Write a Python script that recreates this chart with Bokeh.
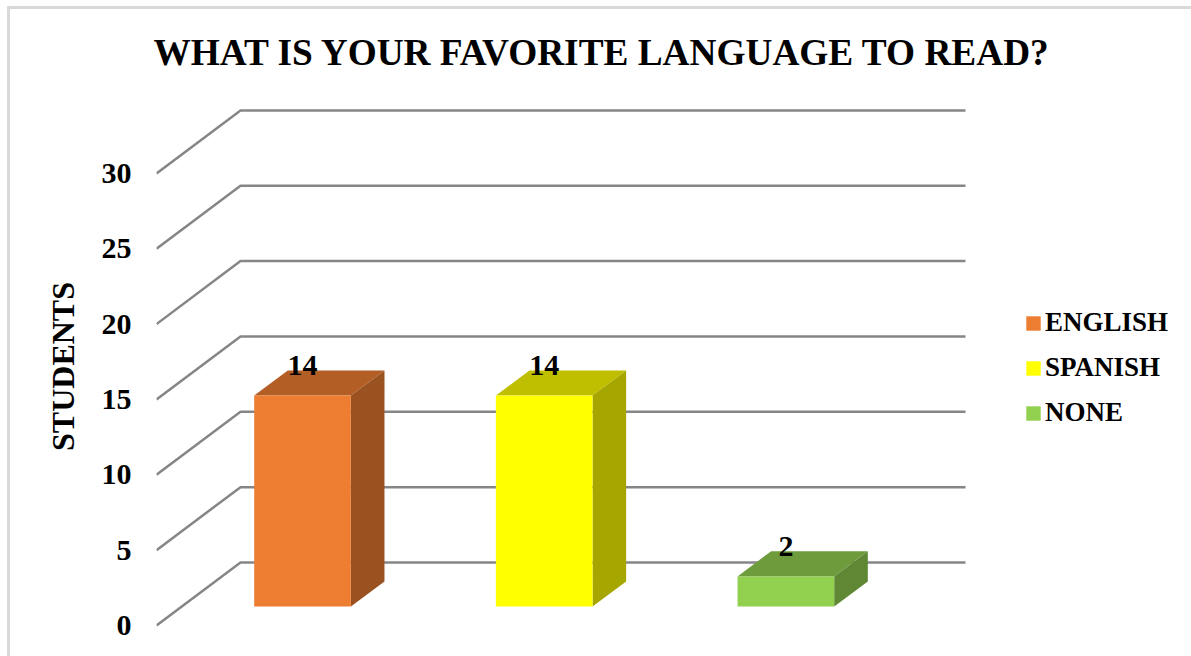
from bokeh.core.properties import value
from bokeh.embed import file_html
from bokeh.models import FixedTicker, InlineStyleSheet, Legend, LegendItem, Range1d
from bokeh.plotting import figure
from bokeh.resources import INLINE

# Chart content
TITLE = "WHAT IS YOUR FAVORITE LANGUAGE TO READ?"
Y_LABEL = "STUDENTS"
languages = ["ENGLISH", "SPANISH", "NONE"]
students = [14, 14, 2]
y_ticks = [0, 5, 10, 15, 20, 25, 30]

# Face colours of each 3-D column
front_colors = ["#ED7D31", "#FFFF00", "#92D050"]
top_colors = ["#B35E25", "#BFBF00", "#6E9C3C"]
side_colors = ["#9A5220", "#A6A600", "#5F8734"]

FONT = "Liberation Serif"
GRID_COLOR = "#868686"
BORDER_COLOR = "#D9D9D9"

# Pixel geometry of the page
WIDTH, HEIGHT = 1191, 656
FRAME_LEFT, FRAME_TOP = 156, 76
FLOOR_PX = 625
PX_PER_STUDENT = 15.07
PX_PER_CATEGORY = 241.67

# Oblique projection: the full floor depth expressed in axis units
DEPTH_X = 84 / PX_PER_CATEGORY
DEPTH_Y = 63 / PX_PER_STUDENT
BAR_WIDTH = 0.4
BAR_NEAR, BAR_FAR = 0.30, 0.70
WALL_RIGHT = 2.5


def project(x, y, z):
    return x + z * DEPTH_X, y + z * DEPTH_Y


# Chart-area border: only its top and left edges fall inside the page
border_css = InlineStyleSheet(css=f"""
:host::before {{
    content: "";
    position: absolute;
    left: 7px;
    top: 6px;
    right: 0;
    bottom: 0;
    border-top: 3px solid {BORDER_COLOR};
    border-left: 3px solid {BORDER_COLOR};
    pointer-events: none;
    z-index: 1;
}}
""")

p = figure(
    width=WIDTH,
    height=HEIGHT,
    output_backend="svg",
    toolbar_location=None,
    min_border_left=FRAME_LEFT,
    min_border_right=0,
    min_border_bottom=0,
    min_border_top=FRAME_TOP,
    x_range=Range1d(-0.5, -0.5 + (WIDTH - FRAME_LEFT) / PX_PER_CATEGORY),
    y_range=Range1d(-(HEIGHT - FLOOR_PX) / PX_PER_STUDENT, (FLOOR_PX - FRAME_TOP) / PX_PER_STUDENT),
    outline_line_color=None,
    background_fill_color="white",
    border_fill_color="white",
    stylesheets=[border_css],
)

p.xaxis.visible = False
p.xgrid.visible = False
p.ygrid.visible = False

# Title
p.title.text = TITLE
p.title.align = "left"
p.title.text_font = FONT
p.title.text_font_style = "bold"
p.title.text_font_size = "37.3px"
p.title.text_color = "black"
p.title.offset = -3
p.title.standoff = 7

# Value axis
axis = p.yaxis[0]
axis.ticker = FixedTicker(ticks=y_ticks)
axis.axis_line_color = None
axis.major_tick_line_color = None
axis.minor_tick_line_color = None
axis.major_label_standoff = 19
axis.major_label_text_font = FONT
axis.major_label_text_font_style = "bold"
axis.major_label_text_font_size = "30px"
axis.major_label_text_color = "black"
axis.axis_label = Y_LABEL
axis.axis_label_text_font = FONT
axis.axis_label_text_font_style = "bold"
axis.axis_label_text_font_size = "32px"
axis.axis_label_text_color = "black"
axis.axis_label_standoff = 18

# Side wall and back wall gridlines
for tick in y_ticks:
    bx, by = project(-0.5, tick, 1)
    rx, ry = project(WALL_RIGHT, tick, 1)
    p.line([-0.5, bx, rx], [tick, by, ry], line_color=GRID_COLOR, line_width=2.5)

# Columns
legend_items = []
for i, (name, val) in enumerate(zip(languages, students)):
    left, right = i - BAR_WIDTH / 2, i + BAR_WIDTH / 2
    corners = {
        "near_bl": project(left, 0, BAR_NEAR),
        "near_br": project(right, 0, BAR_NEAR),
        "near_tl": project(left, val, BAR_NEAR),
        "near_tr": project(right, val, BAR_NEAR),
        "far_br": project(right, 0, BAR_FAR),
        "far_tl": project(left, val, BAR_FAR),
        "far_tr": project(right, val, BAR_FAR),
    }
    top = [corners[k] for k in ("near_tl", "near_tr", "far_tr", "far_tl")]
    side = [corners[k] for k in ("near_br", "far_br", "far_tr", "near_tr")]
    p.patch([c[0] for c in top], [c[1] for c in top], fill_color=top_colors[i], line_color=None)
    p.patch([c[0] for c in side], [c[1] for c in side], fill_color=side_colors[i], line_color=None)
    front = p.quad(
        left=corners["near_bl"][0],
        right=corners["near_br"][0],
        bottom=corners["near_bl"][1],
        top=corners["near_tl"][1],
        fill_color=front_colors[i],
        line_color=None,
    )
    legend_items.append(LegendItem(label=value(name), renderers=[front]))

    # Value label above the column's front face
    label_x, label_y = project(i, val, BAR_NEAR)
    p.text(
        x=[label_x],
        y=[label_y],
        y_offset=-30,
        text=[str(val)],
        text_font=value(FONT),
        text_font_style="bold",
        text_font_size="30px",
        text_color="black",
        text_align="center",
        text_baseline="middle",
    )

# Legend
legend = Legend(
    items=legend_items,
    location=(868, HEIGHT - 428),
    orientation="vertical",
    background_fill_alpha=0,
    border_line_color=None,
    glyph_width=18,
    glyph_height=18,
    label_standoff=3,
    spacing=14,
    padding=0,
    margin=8,
    label_text_font=FONT,
    label_text_font_style="bold",
    label_text_font_size="27px",
    label_text_color="black",
)
p.add_layout(legend)

open("out.html", "w").write(file_html(p, INLINE))
